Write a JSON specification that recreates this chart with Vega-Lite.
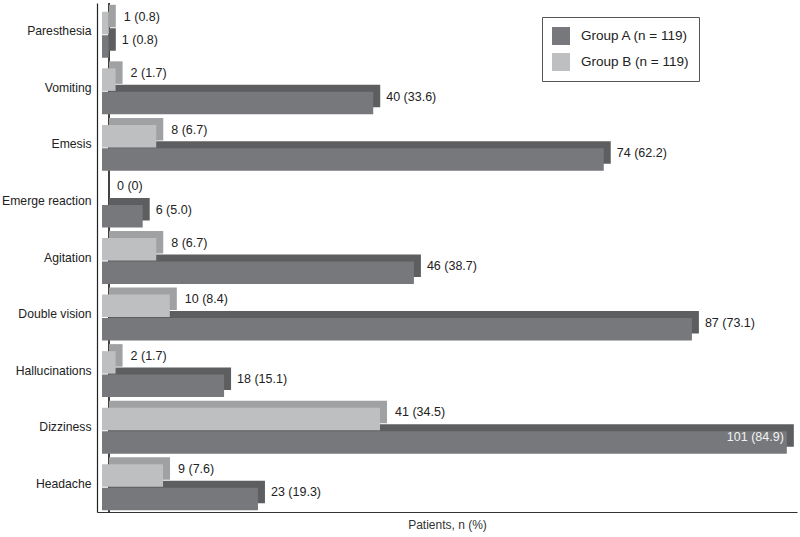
{
  "$schema": "https://vega.github.io/schema/vega-lite/v6.json",
  "width": 700,
  "height": 509,
  "autosize": {"type": "none"},
  "padding": {"left": 97, "top": 3, "right": 3, "bottom": 25},
  "background": "white",
  "config": {
    "font": "Liberation Sans",
    "view": {"stroke": null},
    "axis": {"labelFont": "Liberation Sans", "titleFont": "Liberation Sans"}
  },
  "data": {
    "values": [
      {"symptom": "Paresthesia", "group": "Group A (n = 119)", "n": 1, "label": "1 (0.8)"},
      {"symptom": "Paresthesia", "group": "Group B (n = 119)", "n": 1, "label": "1 (0.8)"},
      {"symptom": "Vomiting", "group": "Group A (n = 119)", "n": 40, "label": "40 (33.6)"},
      {"symptom": "Vomiting", "group": "Group B (n = 119)", "n": 2, "label": "2 (1.7)"},
      {"symptom": "Emesis", "group": "Group A (n = 119)", "n": 74, "label": "74 (62.2)"},
      {"symptom": "Emesis", "group": "Group B (n = 119)", "n": 8, "label": "8 (6.7)"},
      {"symptom": "Emerge reaction", "group": "Group A (n = 119)", "n": 6, "label": "6 (5.0)"},
      {"symptom": "Emerge reaction", "group": "Group B (n = 119)", "n": 0, "label": "0 (0)"},
      {"symptom": "Agitation", "group": "Group A (n = 119)", "n": 46, "label": "46 (38.7)"},
      {"symptom": "Agitation", "group": "Group B (n = 119)", "n": 8, "label": "8 (6.7)"},
      {"symptom": "Double vision", "group": "Group A (n = 119)", "n": 87, "label": "87 (73.1)"},
      {"symptom": "Double vision", "group": "Group B (n = 119)", "n": 10, "label": "10 (8.4)"},
      {"symptom": "Hallucinations", "group": "Group A (n = 119)", "n": 18, "label": "18 (15.1)"},
      {"symptom": "Hallucinations", "group": "Group B (n = 119)", "n": 2, "label": "2 (1.7)"},
      {"symptom": "Dizziness", "group": "Group A (n = 119)", "n": 101, "label": "101 (84.9)"},
      {"symptom": "Dizziness", "group": "Group B (n = 119)", "n": 41, "label": "41 (34.5)"},
      {"symptom": "Headache", "group": "Group A (n = 119)", "n": 23, "label": "23 (19.3)"},
      {"symptom": "Headache", "group": "Group B (n = 119)", "n": 9, "label": "9 (7.6)"}
    ]
  },
  "encoding": {
    "y": {
      "field": "symptom",
      "type": "nominal",
      "sort": ["Paresthesia", "Vomiting", "Emesis", "Emerge reaction", "Agitation", "Double vision", "Hallucinations", "Dizziness", "Headache"],
      "scale": {"paddingInner": 0.064, "paddingOuter": 0.032},
      "axis": {
        "title": null,
        "ticks": false,
        "labelFontSize": 12.2,
        "labelColor": "#222",
        "labelPadding": 6,
        "domainColor": "#222",
        "domainWidth": 1.2
      }
    },
    "x": {
      "field": "n",
      "type": "quantitative",
      "scale": {"domain": [-0.74, 102.5], "nice": false, "zero": false},
      "axis": {
        "title": "Patients, n (%)",
        "titleFontSize": 12,
        "titleFontWeight": "normal",
        "titleColor": "#333",
        "titlePadding": 7,
        "labels": false,
        "ticks": false,
        "grid": false,
        "domainColor": "#333",
        "domainWidth": 1.2
      }
    }
  },
  "layer": [
    {
      "mark": {"type": "rule", "xOffset": 7, "color": "#444", "strokeWidth": 1},
      "encoding": {"x": {"datum": 0}, "y": null}
    },
    {
      "mark": {"type": "bar", "xOffset": 7},
      "encoding": {
        "yOffset": {
          "field": "group",
          "type": "nominal",
          "scale": {"domain": ["Group B (n = 119)", "Group A (n = 119)"], "paddingInner": 0.04, "paddingOuter": 0.149, "align": 0}
        },
        "color": {
          "condition": {"test": "indexof(datum.group, 'Group A') == 0", "value": "#5d5e60"},
          "value": "#a0a1a3"
        }
      }
    },
    {
      "mark": {"type": "bar"},
      "encoding": {
        "yOffset": {
          "field": "group",
          "type": "nominal",
          "scale": {"domain": ["Group B (n = 119)", "Group A (n = 119)"], "paddingInner": 0.04, "paddingOuter": 0.149, "align": 1}
        },
        "color": {
          "field": "group",
          "type": "nominal",
          "scale": {"domain": ["Group A (n = 119)", "Group B (n = 119)"], "range": ["#77787b", "#bebfc1"]},
          "legend": {
            "title": null,
            "orient": "none",
            "legendX": 445,
            "legendY": 14,
            "symbolType": "square",
            "symbolSize": 324,
            "symbolStrokeWidth": 0,
            "labelFontSize": 13.5,
            "labelColor": "#222",
            "labelOffset": 11,
            "rowPadding": 8,
            "padding": 10,
            "strokeColor": "#555",
            "fillColor": "white"
          }
        }
      }
    },
    {
      "transform": [{"filter": "indexof(datum.group, 'Group B') == 0"}],
      "mark": {"type": "text", "align": "left", "baseline": "middle", "dx": 15, "dy": -6.5, "fontSize": 12.5, "color": "#222"},
      "encoding": {
        "yOffset": {
          "field": "group",
          "type": "nominal",
          "bandPosition": 0.5,
          "scale": {"type": "band", "domain": ["Group B (n = 119)", "Group A (n = 119)"], "paddingInner": 0.04, "paddingOuter": 0.149, "align": 1}
        },
        "text": {"field": "label"}
      }
    },
    {
      "transform": [{"filter": "indexof(datum.group, 'Group A') == 0 && datum.n < 100"}],
      "mark": {"type": "text", "align": "left", "baseline": "middle", "dx": 13, "dy": -6.5, "fontSize": 12.5, "color": "#222"},
      "encoding": {
        "yOffset": {
          "field": "group",
          "type": "nominal",
          "bandPosition": 0.5,
          "scale": {"type": "band", "domain": ["Group B (n = 119)", "Group A (n = 119)"], "paddingInner": 0.04, "paddingOuter": 0.149, "align": 1}
        },
        "text": {"field": "label"}
      }
    },
    {
      "transform": [{"filter": "datum.n >= 100"}],
      "mark": {"type": "text", "align": "right", "baseline": "middle", "dx": -3, "dy": -5, "fontSize": 12.5, "color": "#f2f2f2"},
      "encoding": {
        "yOffset": {
          "field": "group",
          "type": "nominal",
          "bandPosition": 0.5,
          "scale": {"type": "band", "domain": ["Group B (n = 119)", "Group A (n = 119)"], "paddingInner": 0.04, "paddingOuter": 0.149, "align": 1}
        },
        "text": {"field": "label"}
      }
    }
  ],
  "resolve": {"scale": {"yOffset": "independent"}}
}
